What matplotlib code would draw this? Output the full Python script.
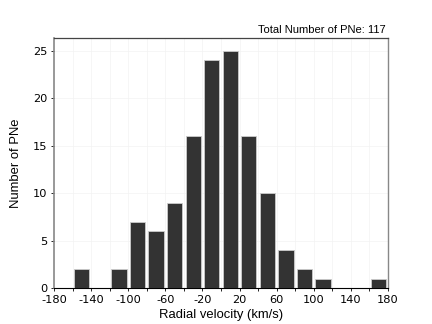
import matplotlib
matplotlib.use("Agg")
import matplotlib.pyplot as plt
import numpy as np

plt.rcParams['axes.unicode_minus'] = False

bin_left = [-160, -140, -120, -100, -80, -60, -40, -20, 0, 20, 40, 60, 80, 100, 120, 140, 160]
counts   = [2, 0, 2, 7, 6, 9, 16, 24, 25, 16, 10, 4, 2, 1, 0, 0, 1]
xtick_labels = [-180, -140, -100, -60, -20, 20, 60, 100, 140, 180]
ytick_vals = [0, 5, 10, 15, 20, 25]
total_text = "Total Number of PNe: 117"

bin_width = 20
fig = plt.figure(figsize=(4.32, 3.24), dpi=100)
ax = fig.add_axes([0.125, 0.110, 0.773, 0.772])

centers = np.array(bin_left) + bin_width / 2
ax.bar(centers, counts, width=bin_width * 0.82, align='center', color='#333333',
       edgecolor='#cccccc', linewidth=0.6, zorder=3)

ax.set_xlim(-180, 180)
ax.set_ylim(0, 26.3)
ax.set_xticks(np.arange(-180, 181, 20))
ax.set_xticklabels([str(v) if v in xtick_labels else '' for v in range(-180, 181, 20)])
ax.set_yticks(ytick_vals)
ax.tick_params(axis='both', direction='out', length=2.5, width=0.6, labelsize=8.2,
               colors='black', pad=2)
ax.grid(True, color='#f3f3f3', linewidth=0.5, zorder=0)
ax.set_axisbelow(True)

ax.spines['top'].set_color('#444444')
ax.spines['top'].set_linewidth(0.9)
ax.spines['right'].set_color('#888888')
ax.spines['right'].set_linewidth(1.0)
ax.spines['left'].set_color('#888888')
ax.spines['left'].set_linewidth(1.2)
ax.spines['bottom'].set_color('black')
ax.spines['bottom'].set_linewidth(0.8)

ax.set_xlabel("Radial velocity (km/s)", fontsize=9.4, family='Liberation Sans')
ax.set_ylabel("Number of PNe", fontsize=9.4, family='Liberation Sans')
ax.xaxis.set_label_coords(0.5, -0.107)
ax.yaxis.set_label_coords(-0.115, 0.5)
ax.xaxis.label.set_va('center')
ax.yaxis.label.set_va('center')
ax.text(0.994, 1.022, total_text, transform=ax.transAxes, ha='right', va='baseline',
        fontsize=8, family='Liberation Sans')

fig.savefig("out.png", dpi=100)
